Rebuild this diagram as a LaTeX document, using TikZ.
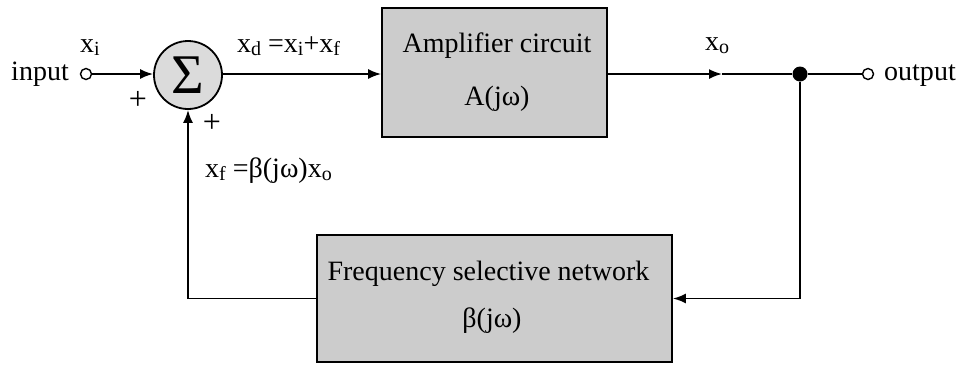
\documentclass[tikz,border=0pt]{standalone}
\usepackage{fontspec}
\setmainfont{Liberation Serif}
\usetikzlibrary{arrows.meta}
% lowered index set in a smaller size
\newcommand\lowidx[1]{\raisebox{-0.3ex}{\fontsize{20}{20}\selectfont #1}}

\begin{document}
\begin{tikzpicture}[x=1pt,y=-1pt,
  font=\fontsize{28}{32}\selectfont,
  wire/.style={line width=1.8pt},
  tip/.style={-{Latex[length=13pt,width=10pt]}},
  blockbox/.style={draw, line width=1.8pt, fill=black!20, inner sep=0pt},
  terminal/.style={circle, draw, line width=1.4pt, fill=white, minimum size=11pt, inner sep=0pt},
  txt/.style={inner sep=0pt, anchor=base},
  txtw/.style={inner sep=0pt, anchor=base west}]

\useasboundingbox (0,0) rectangle (965,365);

% blocks
\node[blockbox, minimum width=225pt, minimum height=129pt] (amp) at (494.5,72.5) {};
\node[txt] (ampA) at (497,52) {Amplifier circuit};
\node[txt] (ampB) at (497,105) {A(jω)};

\node[blockbox, minimum width=355pt, minimum height=127pt] (beta) at (494.5,298.5) {};
\node[txt] (betaA) at (488.5,280) {Frequency selective network};
\node[txt] (betaB) at (492,327) {β(jω)};

% summing junction
\node[circle, draw, line width=1.8pt, fill=black!14, minimum size=68pt, inner sep=0pt] (sum) at (188,75)
  {\raisebox{-0.1ex}{\fontsize{56}{56}\selectfont Σ}};

% terminals and branch point
\node[terminal] (in) at (86,74) {};
\node[terminal] (out) at (868,74) {};
\node[circle, fill, minimum size=15pt, inner sep=0pt] (dot) at (800,74) {};
\coordinate (mid) at (722,74);

% text labels
\node[inner sep=0pt, anchor=base east] (inlbl) at (69,80) {input};
\node[txtw] (outlbl) at (884,80) {output};
\node[txt] (xi) at (90,52) {x\lowidx{i}};
\node[txtw] (xd) at (237,52) {x\lowidx{d} =x\lowidx{i}+x\lowidx{f}};
\node[txt] (xo) at (717,50) {x\lowidx{o}};
\node[txtw] (xf) at (205,177) {x\lowidx{f} =β(jω)x\lowidx{o}};
\node[inner sep=0pt, font=\fontsize{32}{32}\selectfont] (plusA) at (138,100) {+};
\node[inner sep=0pt, font=\fontsize{32}{32}\selectfont] (plusB) at (212,123) {+};

% forward path
\draw[wire,tip] (in) -- (in -| sum.west);
\draw[wire,tip] (in -| sum.east) -- (in -| amp.west);
\draw[wire,tip] (in -| amp.east) -- (mid);
\draw[wire] (mid) -- (dot);
\draw[wire] (dot) -- (out);

% feedback path
\draw[wire,tip] (dot) |- (beta.east);
\draw[wire,tip] (beta.west) -| (sum.south);
\end{tikzpicture}
\end{document}
